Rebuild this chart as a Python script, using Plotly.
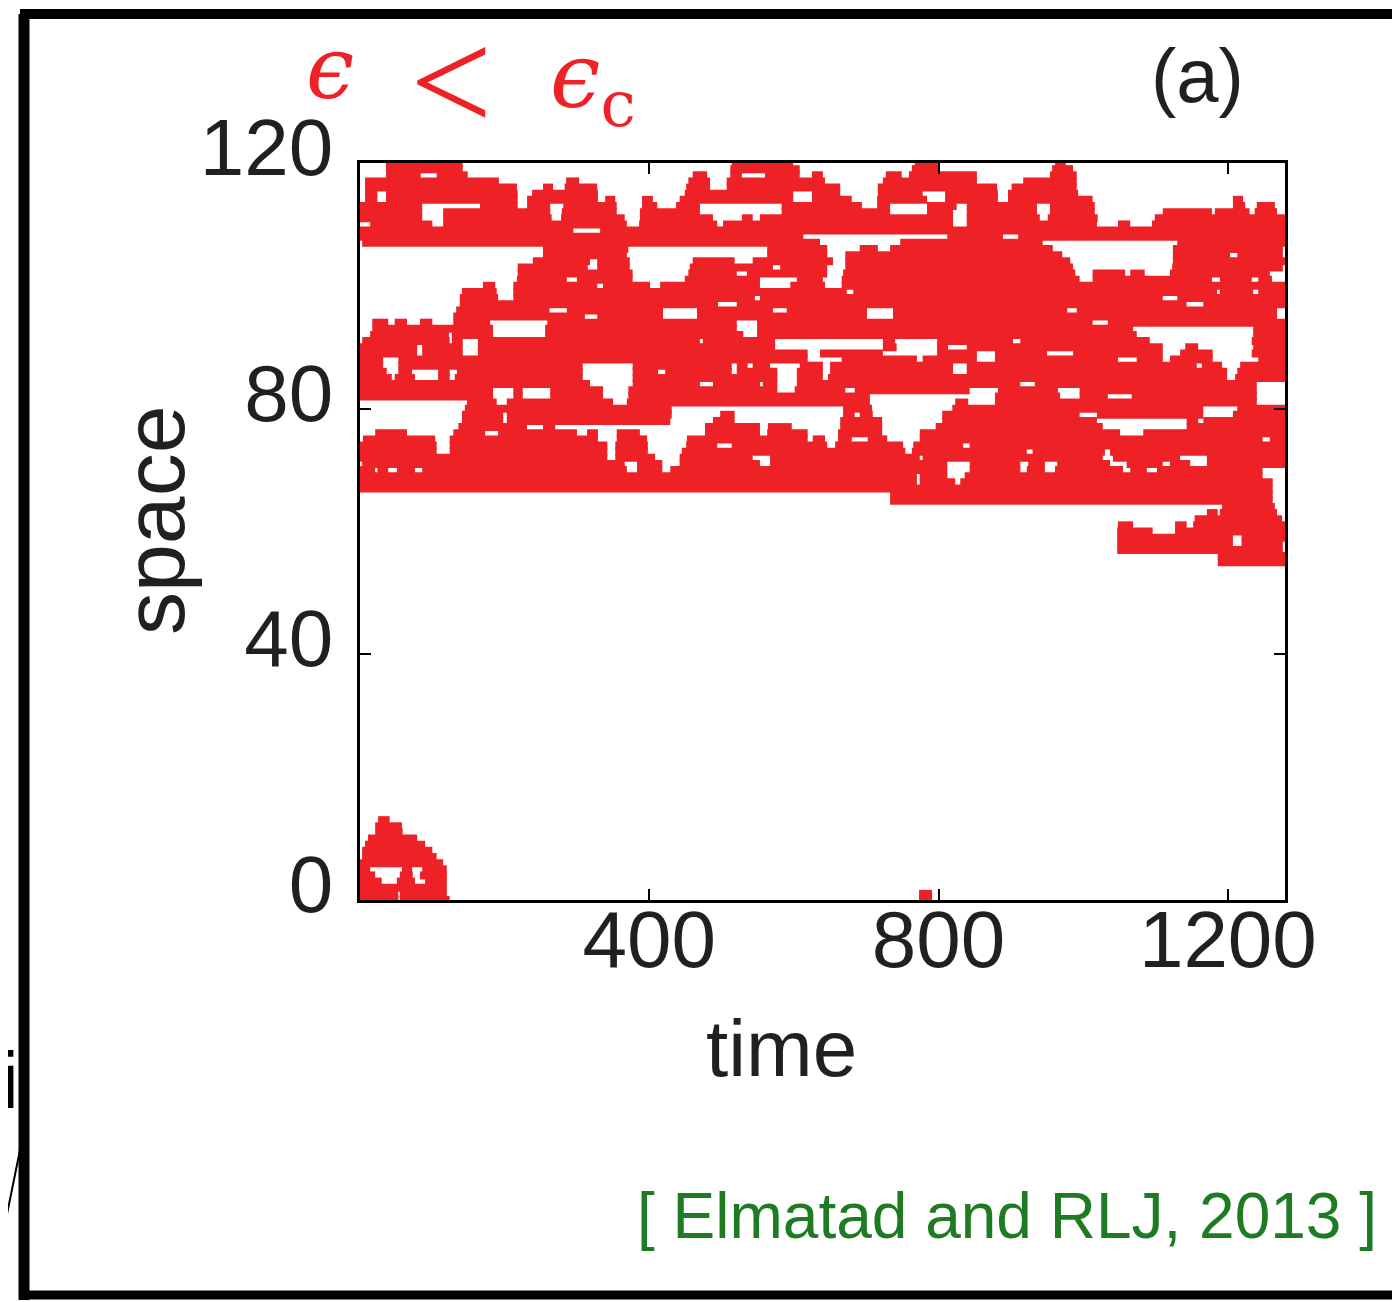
import plotly.graph_objects as go

# ---------------- data: active (excited) sites of the space-time trajectory ----------------
# each entry: (space index, [(time_start, time_end), ...])
upper_rows = [
    (121, [(39, 123), (129, 142), (514, 599), (772, 791)]),
    (120, [(36, 142), (514, 599), (767, 799), (961, 976)]),
    (119, [(36, 142), (512, 608), (763, 802), (957, 986)]),
    (118, [(36, 84), (106, 149), (460, 480), (512, 528), (560, 608), (625, 640), (727, 749), (759, 853), (954, 991)]),
    (117, [(7, 192), (285, 303), (454, 484), (507, 643), (723, 853), (917, 991)]),
    (116, [(7, 217), (253, 267), (283, 328), (451, 484), (507, 664), (716, 881), (901, 991)]),
    (115, [(7, 24), (36, 218), (238, 329), (449, 599), (625, 664), (716, 778), (809, 882), (896, 993)]),
    (114, [(7, 24), (36, 218), (231, 329), (339, 353), (390, 405), (442, 599), (625, 680), (715, 784), (809, 882), (896, 1013), (1207, 1221)]),
    (113, [(0, 86), (166, 218), (231, 263), (281, 355), (390, 411), (437, 470), (583, 694), (715, 733), (784, 825), (839, 936), (954, 1016), (1207, 1224), (1240, 1265)]),
    (112, [(-6, 86), (115, 263), (279, 355), (387, 470), (583, 733), (784, 820), (839, 936), (954, 1016), (1110, 1178), (1182, 1230), (1237, 1268)]),
    (111, [(-6, 86), (115, 265), (278, 366), (387, 488), (528, 543), (553, 820), (839, 940), (951, 1020), (1099, 1282)]),
    (110, [(14, 100), (115, 369), (386, 494), (502, 820), (839, 1019), (1048, 1065), (1095, 1286)]),
    (109, [(-3, 295), (332, 1286)]),
    (108, [(-3, 613), (812, 889), (910, 1286)]),
    (107, [(3, 636), (747, 944), (1130, 1286)]),
]

middle_rows = [
    (106, [(253, 371), (563, 646), (691, 716), (733, 958), (1124, 1276)]),
    (105, [(253, 369), (563, 646), (671, 971), (1124, 1203), (1213, 1276)]),
    (104, [(239, 318), (328, 373), (460, 518), (543, 654), (671, 982), (1124, 1286)]),
    (103, [(218, 315), (328, 373), (456, 571), (581, 646), (671, 986), (1123, 1276)]),
    (102, [(218, 377), (454, 521), (535, 646), (668, 989), (1013, 1058), (1065, 1085), (1120, 1258)]),
    (101, [(217, 286), (300, 377), (449, 553), (604, 640), (666, 995), (1013, 1178), (1189, 1233), (1242, 1261)]),
    (100, [(170, 187), (212, 328), (336, 401), (415, 553), (595, 643), (666, 1286)]),
    (99, [(141, 189), (212, 673), (682, 1185), (1189, 1235), (1242, 1286)]),
    (98, [(138, 191), (212, 546), (553, 1110), (1130, 1286)]),
    (97, [(138, 495), (521, 1143), (1166, 1286)]),
    (96, [(133, 262), (286, 419), (466, 571), (590, 701), (737, 978), (991, 1268)]),
    (95, [(129, 311), (328, 419), (466, 701), (737, 1268)]),
    (94, [(17, 39), (48, 65), (83, 100), (129, 180), (259, 521), (549, 1013), (1034, 1279)]),
    (93, [(17, 184), (256, 521), (549, 1069), (1235, 1286)]),
    (92, [(14, 123), (127, 184), (256, 530), (549, 1074), (1235, 1286)]),
    (91, [(3, 124), (127, 142), (163, 470), (474, 574), (723, 740), (798, 903), (913, 1092), (1233, 1286)]),
    (90, [(-6, 79), (86, 142), (163, 574), (723, 742), (798, 813), (839, 1110), (1141, 1159), (1235, 1286)]),
    (89, [(-6, 79), (86, 142), (163, 619), (636, 723), (798, 853), (878, 950), (986, 1110), (1134, 1179), (1233, 1286)]),
    (88, [(-6, 32), (53, 619), (666, 770), (778, 853), (878, 1048), (1074, 1110), (1120, 1179), (1242, 1286)]),
    (87, [(-6, 32), (53, 308), (377, 514), (521, 536), (543, 567), (608, 640), (650, 820), (839, 1157), (1164, 1192), (1217, 1286)]),
    (86, [(-6, 37), (53, 72), (108, 124), (134, 308), (377, 412), (422, 514), (521, 577), (604, 640), (650, 820), (839, 1199), (1213, 1286)]),
    (85, [(-6, 44), (48, 76), (108, 124), (131, 308), (377, 577), (604, 640), (647, 1199), (1210, 1286)]),
    (84, [(-6, 318), (377, 470), (488, 553), (557, 577), (604, 913), (933, 1240)]),
    (83, [(-6, 184), (212, 225), (263, 336), (371, 577), (601, 671), (684, 843), (882, 965), (995, 1240)]),
    (82, [(-6, 184), (212, 225), (263, 336), (371, 705), (878, 968), (995, 1034), (1067, 1240)]),
    (81, [(148, 189), (203, 350), (369, 705), (823, 841), (878, 1240)]),
    (80, [(145, 431), (668, 708), (819, 1166), (1213, 1286)]),
    (79, [(141, 198), (203, 431), (498, 518), (668, 684), (691, 709), (805, 995), (1019, 1166), (1207, 1286)]),
    (78, [(141, 198), (203, 429), (488, 518), (664, 722), (805, 1019), (1143, 1159), (1166, 1286)]),
    (77, [(136, 231), (253, 270), (477, 553), (564, 597), (664, 722), (796, 1027), (1143, 1286)]),
    (76, [(21, 65), (129, 173), (191, 300), (314, 329), (355, 387), (477, 553), (563, 619), (661, 722), (774, 1051), (1083, 1286)]),
    (75, [(4, 104), (124, 329), (355, 397), (452, 619), (626, 643), (661, 680), (702, 729), (774, 1248), (1258, 1286)]),
    (74, [(-4, 106), (124, 342), (353, 398), (451, 494), (514, 646), (657, 751), (765, 834), (843, 1286)]),
]

lower_rows = [
    (73, [(-4, 106), (124, 342), (353, 398), (445, 754), (763, 922), (930, 1030), (1037, 1286)]),
    (72, [(-4, 342), (353, 408), (442, 543), (567, 774), (778, 1027), (1041, 1134), (1171, 1286)]),
    (71, [(3, 366), (383, 418), (442, 553), (567, 812), (843, 913), (924, 947), (964, 1037), (1060, 1110), (1120, 1148), (1171, 1286)]),
    (70, [(-6, 21), (24, 39), (51, 76), (86, 369), (383, 418), (429, 812), (843, 913), (922, 947), (961, 1055), (1065, 1088), (1102, 1248)]),
    (69, [(-6, 770), (774, 812), (836, 1248)]),
    (68, [(-6, 770), (774, 823), (830, 1262)]),
    (67, [(-6, 1262)]),
    (66, [(733, 1262)]),
    (65, [(733, 1262)]),
    (64, [(1192, 1265)]),
    (63, [(1171, 1186), (1189, 1268)]),
    (62, [(1154, 1275)]),
    (61, [(1048, 1069), (1127, 1143), (1152, 1286)]),
    (60, [(1047, 1096), (1127, 1286)]),
    (59, [(1047, 1207), (1219, 1286)]),
    (58, [(1047, 1207), (1219, 1276)]),
    (57, [(1047, 1276)]),
    (56, [(1186, 1286)]),
    (55, [(1186, 1286)]),
]

origin_rows = [
    (13, [(25, 41)]),
    (12, [(21, 58)]),
    (11, [(21, 59)]),
    (10, [(11, 79)]),
    (9, [(7, 90)]),
    (8, [(3, 100)]),
    (7, [(3, 106)]),
    (6, [(-4, 115)]),
    (5, [(-4, 14), (58, 72), (86, 120)]),
    (4, [(-4, 21), (55, 73), (83, 120)]),
    (3, [(-4, 30), (51, 76), (90, 120)]),
    (2, [(-4, 120)]),
    (1, [(-4, 53), (55, 120), (773, 791)]),
    (0, [(-4, 53), (55, 124), (773, 791)]),
]

x_ticks = [400, 800, 1200]
y_ticks = [0, 40, 80, 120]
x_range = [0, 1279]
y_range = [0, 120]

RED = "#EE2226"
INK = "#231F20"
GREEN = "#1E7B22"

# ---------------- figure ----------------
W, H = 1400, 1302
OFF = 8  # page body margin of the browser
L, R, T, B = 360 - OFF, 1400 - 1285 + OFF, 163 - OFF, 1302 - 900 + OFF
PW, PH = W - L - R, H - T - B


def px(xp):
    return (xp - OFF - L) / PW


def py(yp):
    return (H - B - (yp - OFF)) / PH


xs, ys = [], []
for rows in (upper_rows, middle_rows, lower_rows, origin_rows):
    for s, segs in rows:
        for t0, t1 in segs:
            xs += [t0, t1, None]
            ys += [s, s, None]

fig = go.Figure(
    go.Scatter(
        x=xs, y=ys, mode="lines",
        line=dict(color=RED, width=8),
        connectgaps=False, cliponaxis=False, hoverinfo="skip", showlegend=False,
    )
)

axis_common = dict(
    showline=True, linecolor="black", linewidth=2.5, mirror="ticks",
    ticks="inside", ticklen=11, tickwidth=2, tickcolor="black",
    showgrid=False, zeroline=False,
    tickfont=dict(family="Liberation Sans, Arial, sans-serif", size=80, color=INK),
)
fig.update_xaxes(range=x_range, tickvals=x_ticks, ticktext=[str(v) for v in x_ticks],
                 ticklabelstandoff=-32, **axis_common)
fig.update_yaxes(range=y_range, tickvals=y_ticks, ticktext=[str(v) for v in y_ticks],
                 ticklabelstandoff=8, ticklabelshift=-16, **axis_common)

ann = []
sans = "Liberation Sans, Arial, sans-serif"
ann.append(dict(text="space", x=px(154), y=py(520), textangle=-90,
                font=dict(family=sans, size=86, color=INK)))
ann.append(dict(text="time", x=px(781), y=py(1048),
                font=dict(family=sans, size=80, color=INK)))
ann.append(dict(text="(a)", x=px(1197), y=py(76),
                font=dict(family=sans, size=76, color=INK)))
ann.append(dict(text="<i>ϵ</i>", x=px(330), y=py(68),
                font=dict(family="DejaVu Serif, serif", size=86, color=RED)))
ann.append(dict(text="&lt;", x=px(451), y=py(82),
                font=dict(family="Liberation Serif, serif", size=146, color=RED)))
ann.append(dict(text="<i>ϵ</i><sub>c</sub>", x=px(548), y=py(82), xanchor="left",
                font=dict(family="DejaVu Serif, serif", size=90, color=RED)))
ann.append(dict(text="[ Elmatad and RLJ, 2013 ]", x=px(1007), y=py(1216),
                font=dict(family=sans, size=64, color=GREEN)))
ann.append(dict(text="i", x=px(10), y=py(1080),
                font=dict(family=sans, size=80, color="black")))
for a in ann:
    a.setdefault("xanchor", "center")
    a.update(xref="paper", yref="paper", yanchor="middle", showarrow=False)

shapes = [
    # sketchy outer frame
    dict(type="line", x0=px(24), x1=px(24), y0=py(14), y1=py(1300), line=dict(color="black", width=11)),
    dict(type="line", x0=px(20), x1=px(1400), y0=py(14), y1=py(14), line=dict(color="black", width=10)),
    dict(type="line", x0=px(20), x1=px(1400), y0=py(1295), y1=py(1295), line=dict(color="black", width=9)),
    dict(type="line", x0=px(1396), x1=px(1396), y0=py(14), y1=py(1300), line=dict(color="#333333", width=4)),
    # stray stroke of neighbouring slide
    dict(type="line", x0=px(3), x1=px(20), y0=py(1234), y1=py(1150), line=dict(color="black", width=2)),
]
for s_ in shapes:
    s_.update(xref="paper", yref="paper")

fig.update_layout(
    width=W, height=H,
    margin=dict(l=L, r=R, t=T, b=B, autoexpand=False),
    paper_bgcolor="white", plot_bgcolor="white",
    annotations=ann, shapes=shapes, showlegend=False,
)

fig.write_html("out.html")
